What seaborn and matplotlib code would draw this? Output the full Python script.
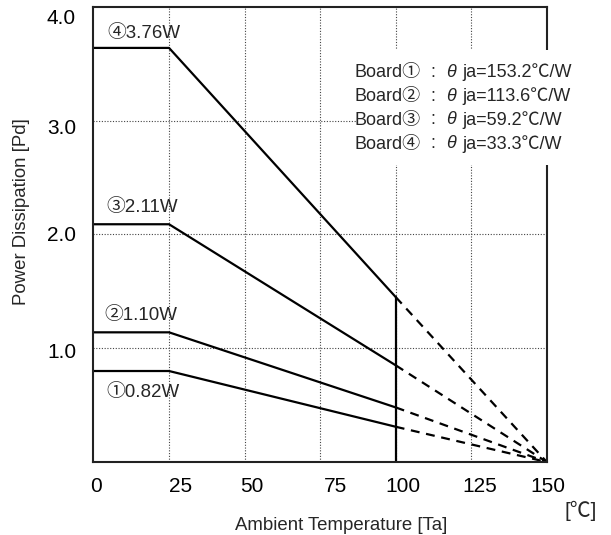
import matplotlib
matplotlib.use("Agg")
import matplotlib.pyplot as plt
import matplotlib.transforms as mtransforms
from matplotlib.patches import Rectangle
import seaborn as sns
import pandas as pd

sns.set_theme(style="white")
plt.rcParams['font.family'] = ['Liberation Sans', 'Noto Sans CJK JP', 'DejaVu Sans']

# ---- data ----
boards = ["①", "②", "③", "④"]
rated_labels = ["①0.82W", "②1.10W", "③2.11W", "④3.76W"]
flat_power = [0.80, 1.14, 2.09, 3.64]        # plateau level (0..25 ℃)
power_at_100 = [0.31, 0.48, 0.85, 1.45]      # level at 100 ℃
power_at_150 = [0.0, 0.0, 0.0, 0.0]
temp_solid = [0, 25, 100]
temp_dash = [100, 150]
theta_ja = ["153.2", "113.6", "59.2", "33.3"]
x_ticks = [0, 25, 50, 75, 100, 125, 150]
y_ticks = [1.0, 2.0, 3.0, 4.0]

rows_solid, rows_dash = [], []
for b, p, p100, p150 in zip(boards, flat_power, power_at_100, power_at_150):
    for t, v in zip(temp_solid, [p, p, p100]):
        rows_solid.append({"board": b, "Ta": t, "Pd": v})
    for t, v in zip(temp_dash, [p100, p150]):
        rows_dash.append({"board": b, "Ta": t, "Pd": v})
df_solid = pd.DataFrame(rows_solid)
df_dash = pd.DataFrame(rows_dash)

fig = plt.figure(figsize=(6.11, 5.35), dpi=100)
ax = fig.add_axes([0.153, 0.1364, 0.742, 0.8506])

pal = {b: "black" for b in boards}
sns.lineplot(data=df_solid, x="Ta", y="Pd", hue="board", palette=pal,
             legend=False, ax=ax, linewidth=1.6, estimator=None, sort=False)
sns.lineplot(data=df_dash, x="Ta", y="Pd", hue="board", palette=pal,
             legend=False, ax=ax, linewidth=1.6, estimator=None, sort=False)
for line in ax.lines[len(boards):]:
    line.set_linestyle((0, (4, 3)))

# vertical limit line at 100 ℃
ax.plot([100, 100], [0, max(power_at_100)], color="black", lw=1.6)

ax.set_xlim(0, 150)
ax.set_ylim(0, 4.0)
ax.set_xticks(x_ticks)
ax.set_yticks(y_ticks)
ax.set_yticklabels([f"{v:.1f}" for v in y_ticks])
ax.set_xticklabels([str(v) for v in x_ticks])
ax.tick_params(axis="both", length=0, labelsize=15, colors="black")
ax.tick_params(axis="x", pad=11)
ax.tick_params(axis="y", pad=12.5)
x_shift_px = [3, 12, 7, 15, 7, 8, 1]
for lbl, dx in zip(ax.get_xticklabels(), x_shift_px):
    lbl.set_transform(lbl.get_transform() +
                      mtransforms.ScaledTranslation(dx / 100, 0, fig.dpi_scale_trans))
y_shift_px = [2, -1, 6, 10]
for lbl, dy in zip(ax.get_yticklabels(), y_shift_px):
    lbl.set_transform(lbl.get_transform() +
                      mtransforms.ScaledTranslation(0, -dy / 100, fig.dpi_scale_trans))

# grid
for x in x_ticks[1:-1]:
    ax.axvline(x, color="#444444", lw=0.8, ls=(0, (1, 1.5)), zorder=0.5)
for y in y_ticks[:-1]:
    ax.axhline(y, color="#444444", lw=0.8, ls=(0, (1, 1.5)), zorder=0.5)

for s in ax.spines.values():
    s.set_color("#222222")
    s.set_linewidth(1.5)

ax.set_xlabel("Ambient Temperature [Ta]", fontsize=13.4)
ax.xaxis.set_label_coords(0.546, -0.14)
ax.xaxis.label.set_va("center")
ax.set_ylabel("Power Dissipation [Pd]", fontsize=13.4)
ax.yaxis.set_label_coords(-0.158, 0.551)
ax.yaxis.label.set_va("center")
fig.text(581 / 611, 1 - 511 / 535, "[℃]", fontsize=15, ha="center", va="center")

# rated labels
label_pos = [(4.2, 0.615), (3.7, 1.29), (4.2, 2.24), (4.5, 3.77)]
for txt, (x, y) in zip(rated_labels, label_pos):
    ax.text(x, y, txt, fontsize=13.5, ha="left", va="center")

# legend box with thermal resistances
fig.patches.append(Rectangle((356 / 611, 1 - 165 / 535), 240 / 611, 115 / 535,
                             transform=fig.transFigure, facecolor="white",
                             edgecolor="none", zorder=5))
line_y = [72, 96.5, 120, 144]
for b, th, py in zip(boards, theta_ja, line_y):
    yy = 1 - py / 535
    fig.text(355 / 611, yy, f"Board{b}", fontsize=13, ha="left", va="center", zorder=6)
    fig.text(430 / 611, yy, ":", fontsize=13, ha="left", va="center", zorder=6)
    fig.text(446 / 611, yy, "θ", fontsize=13, style="italic", ha="left", va="center", zorder=6)
    fig.text(462 / 611, yy, f"ja={th}℃/W", fontsize=13, ha="left", va="center", zorder=6)

fig.savefig("out.png", dpi=100, facecolor="white")
